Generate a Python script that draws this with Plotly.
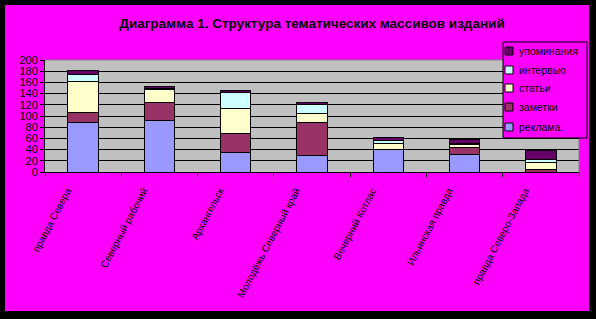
import plotly.graph_objects as go

categories = ["правда Севера", "Северный рабочий", "Архангельск",
              "Молодёжь Северный край", "Вечерний Котлас", "Ильинская правда",
              "правда Северо-Запада"]
reklama = [88, 92, 34, 29, 40, 32, 0]
zametki = [18, 32, 34, 59, 0, 11, 4]
stati = [55, 23, 45, 16, 11, 7, 13]
interview = [13, 2, 29, 16, 5, 1, 5]
upominaniya = [7, 4, 4, 4, 5, 7, 16]

series = [
    ("реклама.", reklama, "#9999FF"),
    ("заметки", zametki, "#993366"),
    ("статьи", stati, "#FFFFCC"),
    ("интервью", interview, "#CCFFFF"),
    ("упоминания", upominaniya, "#660066"),
]

W, H = 596, 319
L, R, T, B = 45, 17, 60, 147
pw, ph = W - L - R, H - T - B

def px(x):
    return (x - L) / pw

def py(y):
    return (H - B - y) / ph

fig = go.Figure()
for name, vals, col in series:
    fig.add_trace(go.Bar(x=categories, y=vals, name=name, showlegend=False,
                         marker=dict(color=col, line=dict(color="black", width=1))))

shapes = []
annotations = []
# black frame
for x0, y0, x1, y1 in [(0, 0, 5, H), (0, 0, W, 5), (589, 0, W, H), (0, 311, W, H)]:
    shapes.append(dict(type="rect", xref="paper", yref="paper",
                       x0=px(x0), x1=px(x1), y0=py(y0), y1=py(y1),
                       fillcolor="black", line=dict(width=0), layer="above"))
# grey top and right plot border
shapes.append(dict(type="line", xref="paper", yref="paper", x0=0, x1=1, y0=1, y1=1,
                   line=dict(color="#808080", width=1)))
shapes.append(dict(type="line", xref="paper", yref="paper", x0=1, x1=1, y0=0, y1=1,
                   line=dict(color="#808080", width=1)))

# manual legend (reversed order, like stacked legend)
lx0, lx1, ly0, ly1 = 503, 587, 42, 138
shapes.append(dict(type="rect", xref="paper", yref="paper",
                   x0=px(lx0), x1=px(lx1), y0=py(ly0), y1=py(ly1),
                   fillcolor="#FF00FF", line=dict(color="black", width=1), layer="above"))
item_y = [127, 107, 88, 70, 51]
for (name, vals, col), yc in zip(series, item_y):
    shapes.append(dict(type="rect", xref="paper", yref="paper",
                       x0=px(505), x1=px(513), y0=py(yc - 4), y1=py(yc + 4),
                       fillcolor=col, line=dict(color="black", width=1), layer="above"))
    annotations.append(dict(text=name, xref="paper", yref="paper",
                            x=px(517), y=py(yc), xanchor="left", yanchor="middle",
                            showarrow=False, font=dict(size=10.5, color="black")))

fig.update_layout(
    width=W, height=H,
    margin=dict(l=L, r=R, t=T, b=B, autoexpand=False),
    paper_bgcolor="#FF00FF",
    plot_bgcolor="#C0C0C0",
    barmode="stack",
    bargap=0.6,
    font=dict(family="Liberation Sans, Arial", size=10, color="black"),
    title=dict(text="<b>Диаграмма 1. Структура тематических массивов изданий</b>",
               x=0.5, xref="paper", xanchor="center", y=1 - 23 / H, yanchor="middle",
               font=dict(size=13.5, color="black")),
    shapes=shapes,
    annotations=annotations,
    showlegend=False,
)
fig.update_xaxes(type="category", tickson="boundaries", ticks="outside", ticklen=4,
                 tickcolor="black", showline=True, linecolor="black", linewidth=1,
                 tickangle=-62, showgrid=False, tickfont=dict(size=10),
                 ticklabelshift=-16, ticklabelstandoff=8)
fig.update_yaxes(range=[0, 200], dtick=20, ticks="outside", ticklen=4, tickcolor="black",
                 showline=True, linecolor="black", linewidth=1,
                 showgrid=True, gridcolor="black", gridwidth=1,
                 zeroline=False, tickfont=dict(size=11))

fig.write_html("out.html")
